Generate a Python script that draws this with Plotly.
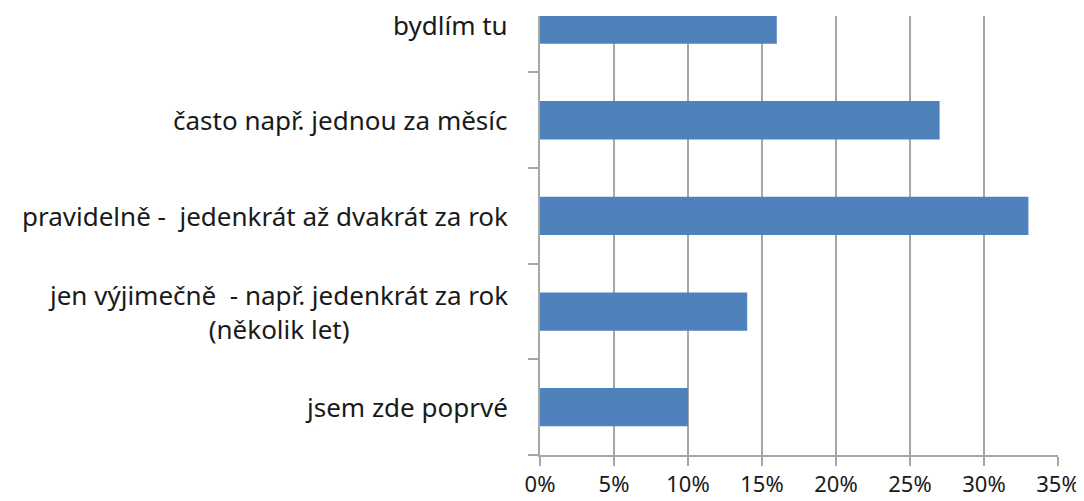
import plotly.graph_objects as go

categories = [
    "jsem zde poprvé",
    "jen výjimečně \u00a0- např. jedenkrát za rok<br>(několik let)",
    "pravidelně - \u00a0jedenkrát až dvakrát za rok",
    "často např. jednou za měsíc",
    "bydlím tu",
]
values = [0.10, 0.14, 0.33, 0.27, 0.16]
x_ticks = [0, 0.05, 0.10, 0.15, 0.20, 0.25, 0.30, 0.35]
x_tick_labels = ["0%", "5%", "10%", "15%", "20%", "25%", "30%", "35%"]

FONT = "Noto Sans"
GRID = "#A6A6A6"

fig = go.Figure()
fig.add_trace(go.Bar(
    y=list(range(len(categories))),
    x=values,
    orientation="h",
    width=0.4,
    marker=dict(color="#4F81BD", line=dict(width=0)),
    hoverinfo="skip",
))

for i, c in enumerate(categories):
    fig.add_annotation(
        x=0, xref="paper", xanchor="right", xshift=-30,
        y=i, yref="y", yanchor="middle",
        text=c, showarrow=False, align="center",
        font=dict(family=FONT, size=26, color="#1a1a1a"),
    )

# page has an 8px body margin, so the figure is offset by 8px
fig.update_layout(
    width=1076, height=493,
    margin=dict(l=532, r=26, t=8, b=46, autoexpand=False),
    paper_bgcolor="white", plot_bgcolor="white",
    showlegend=False,
    xaxis=dict(
        range=[0, 0.35], tickvals=x_ticks, ticktext=x_tick_labels,
        showgrid=True, gridcolor=GRID, gridwidth=1.5,
        showline=True, linecolor=GRID, linewidth=1.5,
        ticks="outside", ticklen=9, tickcolor=GRID, tickwidth=1.5,
        ticklabelstandoff=0,
        tickfont=dict(family=FONT, size=22, color="#1a1a1a"),
        zeroline=False, fixedrange=True, automargin=False,
    ),
    yaxis=dict(
        range=[-0.5, 4.09],
        tickvals=[-0.5, 0.5, 1.5, 2.5, 3.5], ticktext=[""] * 5,
        showgrid=False, zeroline=False,
        showline=True, linecolor=GRID, linewidth=1.5,
        ticks="outside", ticklen=10, tickcolor=GRID, tickwidth=1.5,
        fixedrange=True, automargin=False,
    ),
)

fig.write_html("out.html")
